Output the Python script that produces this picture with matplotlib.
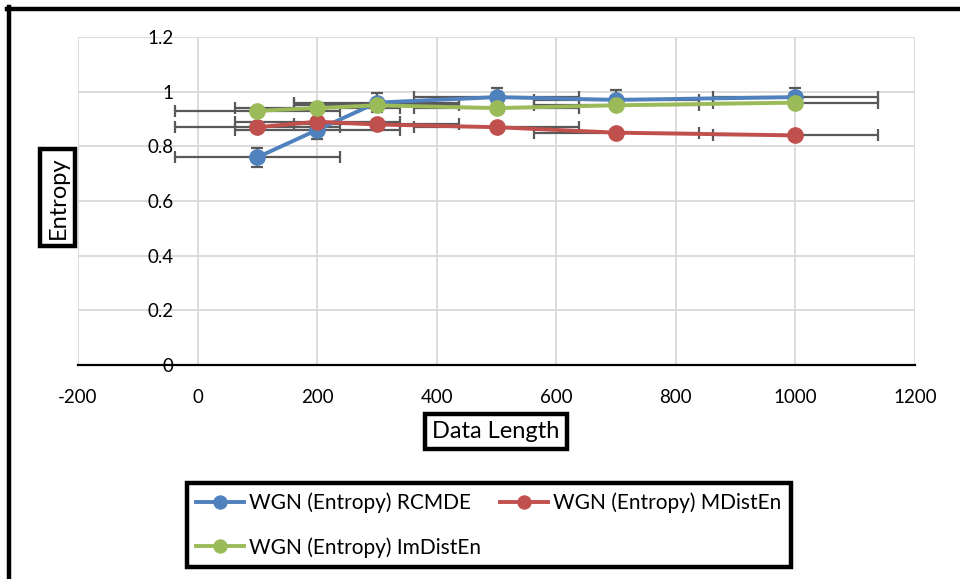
import matplotlib.pyplot as plt
from matplotlib.lines import Line2D

# data
lengths = [100, 200, 300, 500, 700, 1000]
rcmde = [0.76, 0.86, 0.96, 0.98, 0.97, 0.98]
mdisten = [0.87, 0.89, 0.88, 0.87, 0.85, 0.84]
imdisten = [0.93, 0.94, 0.95, 0.94, 0.95, 0.96]
series_names = ["WGN (Entropy) RCMDE", "WGN (Entropy) MDistEn", "WGN (Entropy) ImDistEn"]
x_err = 138
y_errs = [0.035, 0.008, 0.005]
colors = ["#4F81BD", "#C0504D", "#9BBB59"]

plt.rcParams['font.family'] = ['Lato', 'DejaVu Sans']
plt.rcParams['axes.unicode_minus'] = False

fig = plt.figure(figsize=(9.6, 5.79), dpi=100)
ax = fig.add_axes([78 / 960, 1 - 365 / 579, 837 / 960, 328 / 579])

lines = []
for vals, err, color, name in zip([rcmde, mdisten, imdisten], y_errs, colors, series_names):
    ax.errorbar(lengths, vals, xerr=x_err, yerr=err, fmt='none', ecolor='#595959',
                elinewidth=1.6, capsize=4.5, capthick=1.6, zorder=2)
    ln, = ax.plot(lengths, vals, '-o', color=color, lw=2.8, ms=11, label=name, zorder=3)
    lines.append(ln)

ax.set_xlim(-200, 1200)
ax.set_ylim(0, 1.2)
ax.set_xticks(range(-200, 1201, 200))
ax.set_yticks([0, 0.2, 0.4, 0.6, 0.8, 1.0, 1.2])
ax.set_yticklabels(["0", "0.2", "0.4", "0.6", "0.8", "1", "1.2"])
ax.grid(True, color='#D9D9D9', lw=1.3)
ax.set_axisbelow(True)

for s in ['top', 'right', 'left']:
    ax.spines[s].set_visible(False)
ax.spines['left'].set_position(('data', -40))
ax.spines['bottom'].set_color('black')
ax.spines['bottom'].set_linewidth(1.6)
ax.tick_params(axis='both', length=0, labelsize=13.5, colors='black')
ax.tick_params(axis='x', pad=17)
ax.tick_params(axis='y', pad=0)

box = dict(boxstyle='square,pad=0.3', fc='white', ec='black', lw=3.2)
ax.set_xlabel("Data Length", fontsize=17, bbox=box)
ax.xaxis.set_label_coords(0.4994, -0.204)
ax.xaxis.label.set_va('center')
ax.set_ylabel("Entropy", fontsize=17, bbox=box)
ax.yaxis.set_label_coords(-0.024, 0.51)
ax.yaxis.label.set_va('center')

# column-major fill: RCMDE, ImDistEn in column 1, MDistEn in column 2
order = [0, 2, 1]
leg = fig.legend([lines[i] for i in order], [series_names[i] for i in order],
                 loc='center', bbox_to_anchor=(488.5 / 960, 1 - 525 / 579), ncol=2,
                 fontsize=15, frameon=True, fancybox=False, framealpha=1,
                 handlelength=2.3, handletextpad=0.25, columnspacing=0.9,
                 labelspacing=1.15, borderpad=0.45, markerscale=0.85)
leg.get_frame().set_edgecolor('black')
leg.get_frame().set_linewidth(3.2)

# outer chart frame (top and left edges visible in the crop)
fig.add_artist(Line2D([7 / 960, 1], [1 - 9 / 579, 1 - 9 / 579], color='black', lw=3.2,
                      transform=fig.transFigure))
fig.add_artist(Line2D([9 / 960, 9 / 960], [0, 1 - 7 / 579], color='black', lw=3.2,
                      transform=fig.transFigure))

fig.savefig("out.png", dpi=100)
